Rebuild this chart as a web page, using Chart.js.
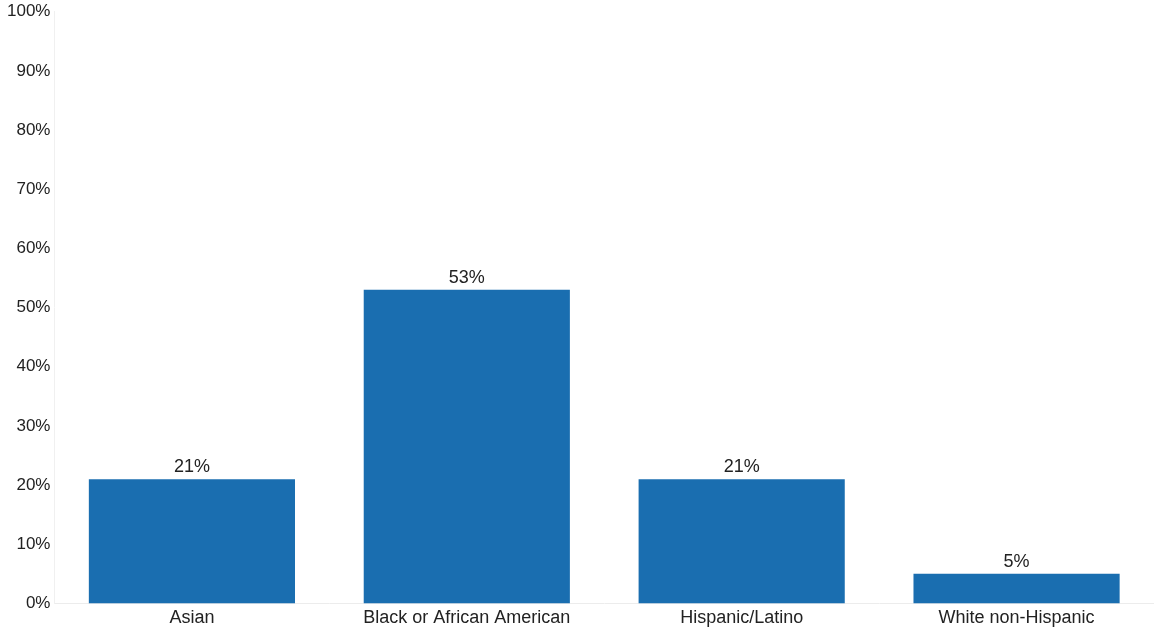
<!DOCTYPE html>
<html>
<head>
<meta charset="utf-8">
<script src="https://cdn.jsdelivr.net/npm/chart.js@4"></script>
<style>
  html, body { margin: 0; padding: 0; background: #fff; }
  #wrap { width: 1154px; height: 633px; }
</style>
</head>
<body>
<div id="wrap"><canvas id="raceGraph" width="1154" height="633"></canvas></div>
<script>
const categories = ['Asian', 'Black or African American', 'Hispanic/Latino', 'White non-Hispanic']
const shares = [21, 53, 21, 5]
const yTicks = [0, 10, 20, 30, 40, 50, 60, 70, 80, 90, 100]

// writes the value above each bar
const barLabels = {
    id: 'barLabels',
    afterDatasetsDraw(chart) {
        const ctx = chart.ctx
        const meta = chart.getDatasetMeta(0)
        ctx.save()
        ctx.font = '18px "Liberation Sans", Arial, sans-serif'
        ctx.fillStyle = '#222'
        ctx.textAlign = 'center'
        ctx.textBaseline = 'bottom'
        meta.data.forEach((bar, i) => {
            ctx.fillText(shares[i] + '%', bar.x, bar.y - 3)
        })
        ctx.restore()
    }
}

Chart.defaults.font.family = '"Liberation Sans", Arial, sans-serif'

const raceChart = new Chart(
    document.getElementById('raceGraph'),
    {
        type: 'bar',
        data: {
            labels: categories,
            datasets: [
                {
                    data: shares,
                    backgroundColor: '#1a6eb0',
                    borderWidth: 0,
                    barPercentage: 0.75,
                    categoryPercentage: 1,
                },
            ],
        },
        options: {
            responsive: false,
            animation: false,
            layout: {
                padding: { left: 3, right: 0, top: 0, bottom: 0 }
            },
            scales: {
                x: {
                    grid: { display: false, drawTicks: false },
                    border: { display: true, color: '#ececec' },
                    ticks: {
                        color: '#222',
                        padding: 4,
                        font: { size: 18 }
                    }
                },
                y: {
                    min: 0,
                    max: 100,
                    afterBuildTicks: axis => {
                        axis.ticks = yTicks.map(v => ({ value: v }))
                    },
                    grid: { display: false, drawTicks: false },
                    border: { display: true, color: '#f0f0f0' },
                    ticks: {
                        color: '#222',
                        padding: 4,
                        font: { size: 17, lineHeight: 0.9 },
                        callback: value => value + '%'
                    }
                }
            },
            plugins: {
                legend: { display: false },
                tooltip: { enabled: false },
            }
        },
        plugins: [barLabels]
    }
);
</script>
</body>
</html>
